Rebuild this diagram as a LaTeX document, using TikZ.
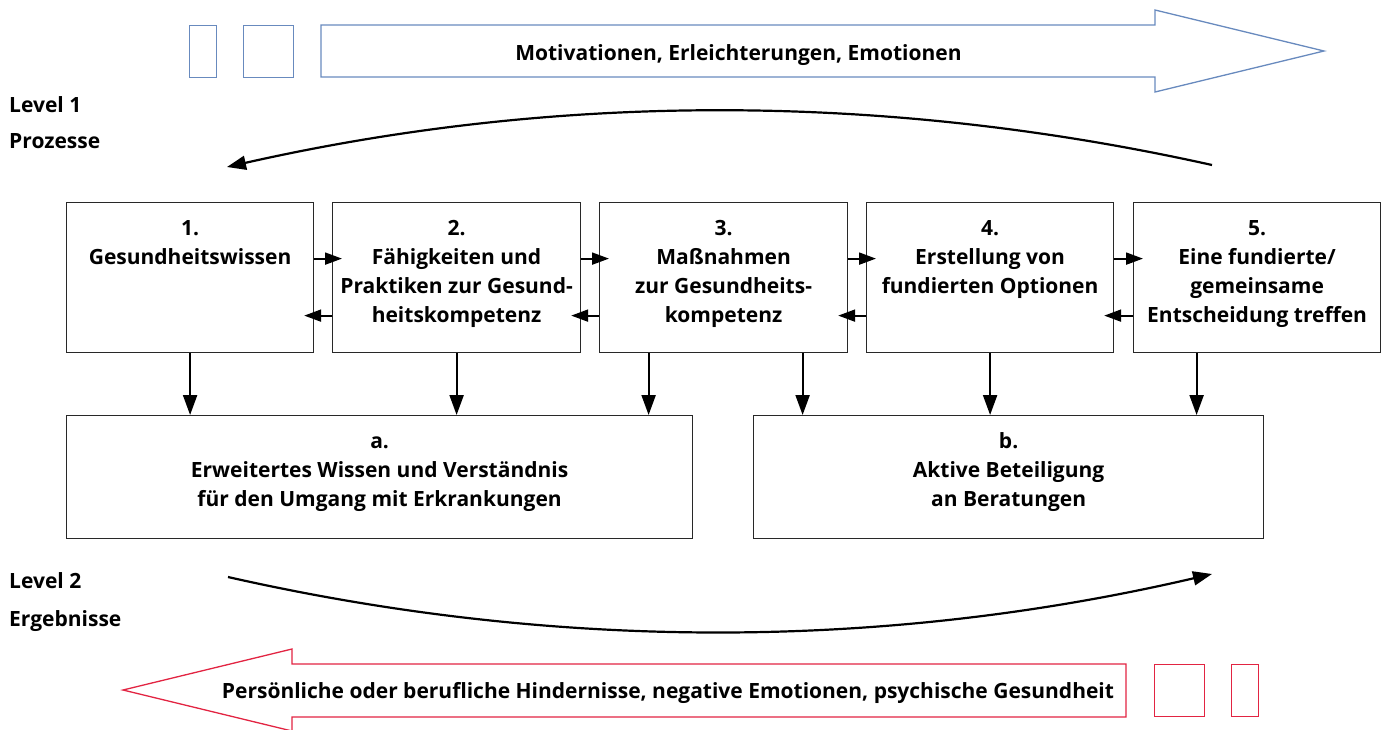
\documentclass[tikz,border=0pt]{standalone}
\usepackage{fontspec}
\setmainfont{Open Sans}
\usetikzlibrary{arrows.meta,calc}
\definecolor{boxblue}{RGB}{104,138,190}
\definecolor{boxred}{RGB}{226,36,66}
\definecolor{edgegray}{RGB}{40,40,40}
\begin{document}
\begin{tikzpicture}[x=1pt,y=-1pt,
  txt/.style={font=\fontsize{21}{29}\selectfont\bfseries, inner sep=0pt, align=center},
  lbl/.style={font=\fontsize{21}{29}\selectfont\bfseries, inner sep=0pt, anchor=base west},
  stepbox/.style={draw=edgegray, line width=1.2pt, fill=white, inner sep=0pt, anchor=north west, minimum height=150pt},
  resbox/.style={draw=edgegray, line width=1.2pt, fill=white, inner sep=0pt, anchor=north west, minimum height=123pt},
  bluerect/.style={draw=boxblue, line width=1.3pt, inner sep=0pt, anchor=north west},
  redrect/.style={draw=boxred, line width=1.3pt, inner sep=0pt, anchor=north west},
  harr/.style={line width=2pt, -{Triangle[length=17pt,width=12pt]}, shorten >=-10pt},
  varr/.style={line width=2.2pt, -{Triangle[length=20pt,width=14pt]}},
  carr/.style={line width=2.2pt, -{Triangle[length=19pt,width=14pt]}}
]
\useasboundingbox (0,0) rectangle (1391,729);

% ---------- top blue block arrow ----------
\node[bluerect, minimum width=27pt, minimum height=52pt] (br1) at (189,25) {};
\node[bluerect, minimum width=50pt, minimum height=52pt] (br2) at (243,25) {};
\draw[boxblue, line width=1.3pt, line join=miter]
  (321,25) -- (1155,25) -- (1155,10) -- (1324,51) -- (1155,92) -- (1155,77) -- (321,77) -- cycle;
\node[txt, anchor=base] (toptext) at (738.5,60) {Motivationen, Erleichterungen, Emotionen};

% ---------- bottom red block arrow ----------
\draw[boxred, line width=1.3pt, line join=miter]
  (1126,664) -- (292,664) -- (292,649) -- (123,690) -- (292,731) -- (292,717) -- (1126,717) -- cycle;
\node[redrect, minimum width=50pt, minimum height=52pt] (rr1) at (1154,664) {};
\node[redrect, minimum width=27pt, minimum height=52pt] (rr2) at (1231,664) {};
\node[txt, anchor=base] (bottext) at (668,698) {Persönliche oder berufliche Hindernisse, negative Emotionen, psychische Gesundheit};

% ---------- level labels ----------
\node[lbl] (l1) at (9,112) {Level 1};
\node[lbl] (l1b) at (9,148) {Prozesse};
\node[lbl] (l2) at (9,588) {Level 2};
\node[lbl] (l2b) at (9,626) {Ergebnisse};

% ---------- step boxes ----------
\node[stepbox, minimum width=247pt] (b1) at (66,202) {};
\node[stepbox, minimum width=248pt] (b2) at (332,202) {};
\node[stepbox, minimum width=248pt] (b3) at (599,202) {};
\node[stepbox, minimum width=247pt] (b4) at (866,202) {};
\node[stepbox, minimum width=247pt] (b5) at (1133,202) {};

\node[txt, anchor=north] (t1) at ($(b1.north)+(0,13)$) {\strut 1.\\Gesundheitswissen};
\node[txt, anchor=north] (t2) at ($(b2.north)+(0,13)$) {\strut 2.\\Fähigkeiten und\\Praktiken zur Gesund-\\heitskompetenz};
\node[txt, anchor=north] (t3) at ($(b3.north)+(0,13)$) {\strut 3.\\Maßnahmen\\zur Gesundheits-\\kompetenz};
\node[txt, anchor=north] (t4) at ($(b4.north)+(0,13)$) {\strut 4.\\Erstellung von\\fundierten Optionen};
\node[txt, anchor=north] (t5) at ($(b5.north)+(0,13)$) {\strut 5.\\Eine fundierte/\\gemeinsame\\Entscheidung treffen};

% ---------- result boxes ----------
\node[resbox, minimum width=626pt] (ra) at (66,415) {};
\node[resbox, minimum width=510pt] (rb) at (753,415) {};
\node[txt, anchor=north] (ta) at ($(ra.north)+(0,12.5)$) {\strut a.\\Erweitertes Wissen und Verständnis\\für den Umgang mit Erkrankungen};
\node[txt, anchor=north] (tb) at ($(rb.north)+(0,12.5)$) {\strut b.\\Aktive Beteiligung\\an Beratungen};

% ---------- horizontal arrows ----------
\foreach \s/\t in {b1/b2, b2/b3, b3/b4, b4/b5}{
  \draw[harr] ([yshift=19pt]\s.east) -- ([yshift=19pt]\t.west);
  \draw[harr] ([yshift=-38pt]\t.west) -- ([yshift=-38pt]\s.east);
}

% ---------- vertical arrows ----------
\draw[varr] (b1.south) -- (b1.south |- ra.north);
\draw[varr] (b2.south) -- (b2.south |- ra.north);
\draw[varr] ([xshift=-75pt]b3.south) -- ([xshift=-75pt]b3.south |- ra.north);
\draw[varr] ([xshift=79pt]b3.south) -- ([xshift=79pt]b3.south |- rb.north);
\draw[varr] (b4.south) -- (b4.south |- rb.north);
\draw[varr] ([xshift=-60.5pt]b5.south) -- ([xshift=-60.5pt]b5.south |- rb.north);

% ---------- curved arrows ----------
\coordinate (c1s) at (1212,165);
\coordinate (c1e) at (227,167);
\draw[carr] (c1s) .. controls (884,92) and (556,92.6) .. (c1e);
\coordinate (c2s) at (228,577);
\coordinate (c2e) at (1212,574);
\draw[carr] (c2s) .. controls (556,651.3) and (884,650.3) .. (c2e);
\end{tikzpicture}
\end{document}
